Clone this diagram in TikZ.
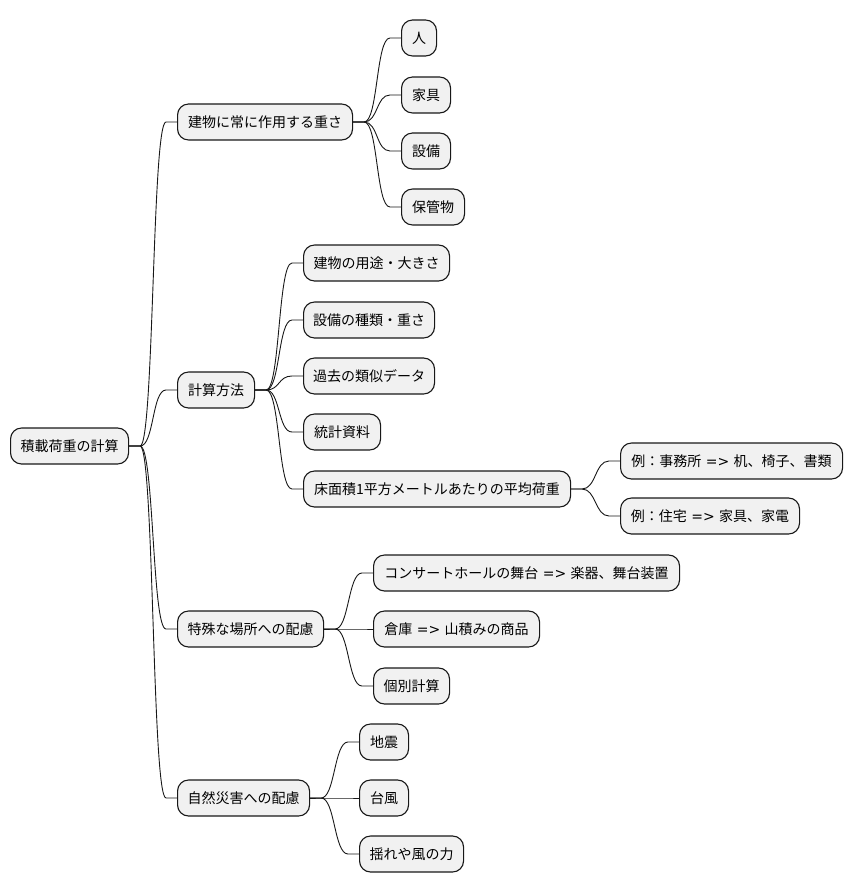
\documentclass[tikz,border=0pt]{standalone}
\usepackage{fontspec}
\setmainfont{Noto Sans CJK JP}
\newfontfamily\dvs{DejaVu Sans}
\definecolor{boxfill}{HTML}{F1F1F1}
\definecolor{boxline}{HTML}{181818}
\tikzset{
  mm/.style={draw=boxline, fill=boxfill, line width=1.1pt, rounded corners=11pt,
    anchor=west, minimum height=36pt, inner xsep=8pt, inner ysep=0pt,
    font=\fontsize{14pt}{17pt}\selectfont, text=black},
  conn/.style={draw=boxline, line width=0.9pt}
}
\newcommand{\arrw}{{\dvs\ =>\ }}
\newcommand{\mmconn}[2]{%
  \draw[conn] (#1.east) -- ([xshift=11pt]#1.east)
    .. controls ([xshift=25pt]#1.east) and ([xshift=-25pt]#2.west)
    .. ([xshift=-11pt]#2.west) -- (#2.west);}
\begin{document}
\begin{tikzpicture}[x=1pt,y=-1pt]
\useasboundingbox (0,0) rectangle (852,893);
\node[mm, minimum width=118pt] (root) at (10,446) {積載荷重の計算};
\node[mm, minimum width=175pt] (A) at (177,122) {建物に常に作用する重さ};
\node[mm, minimum width=35pt] (A1) at (401,38) {人};
\node[mm, minimum width=49pt] (A2) at (401,95) {家具};
\node[mm, minimum width=49pt] (A3) at (401,151) {設備};
\node[mm, minimum width=63pt] (A4) at (401,207) {保管物};
\node[mm, minimum width=77pt] (B) at (177,390) {計算方法};
\node[mm, minimum width=146pt] (B1) at (303,263) {建物の用途・大きさ};
\node[mm, minimum width=131pt] (B2) at (303,320) {設備の種類・重さ};
\node[mm, minimum width=131pt] (B3) at (303,376) {過去の類似データ};
\node[mm, minimum width=77pt] (B4) at (303,432) {統計資料};
\node[mm, minimum width=267pt] (B5) at (303,489) {床面積1平方メートルあたりの平均荷重};
\node[mm, minimum width=222pt] (B5a) at (620,461) {例：事務所\arrw 机、椅子、書類};
\node[mm, minimum width=179pt] (B5b) at (620,516) {例：住宅\arrw 家具、家電};
\node[mm, minimum width=146pt] (C) at (177,629) {特殊な場所への配慮};
\node[mm, minimum width=306pt] (C1) at (373,573) {コンサートホールの舞台\arrw 楽器、舞台装置};
\node[mm, minimum width=166pt] (C2) at (373,629) {倉庫\arrw 山積みの商品};
\node[mm, minimum width=76pt] (C3) at (373,686) {個別計算};
\node[mm, minimum width=132pt] (D) at (177,798) {自然災害への配慮};
\node[mm, minimum width=49pt] (D1) at (359,742) {地震};
\node[mm, minimum width=49pt] (D2) at (359,798) {台風};
\node[mm, minimum width=104pt] (D3) at (359,854) {揺れや風の力};
\mmconn{root}{A}\mmconn{root}{B}\mmconn{root}{C}\mmconn{root}{D}
\mmconn{A}{A1}\mmconn{A}{A2}\mmconn{A}{A3}\mmconn{A}{A4}
\mmconn{B}{B1}\mmconn{B}{B2}\mmconn{B}{B3}\mmconn{B}{B4}\mmconn{B}{B5}
\mmconn{B5}{B5a}\mmconn{B5}{B5b}
\mmconn{C}{C1}\mmconn{C}{C2}\mmconn{C}{C3}
\mmconn{D}{D1}\mmconn{D}{D2}\mmconn{D}{D3}
\end{tikzpicture}
\end{document}
